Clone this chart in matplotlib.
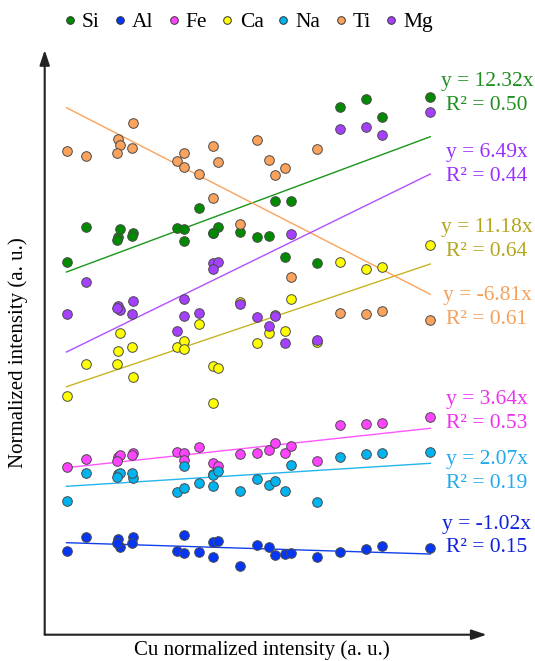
import matplotlib
matplotlib.use("Agg")
import matplotlib.pyplot as plt
from matplotlib.lines import Line2D

# ---------------- data (arbitrary units) ----------------
elements = ["Si", "Al", "Fe", "Ca", "Na", "Ti", "Mg"]

cu = [21.8, 41.3, 72.8, 74.8, 72.6, 87.8, 86.8, 132.6, 139.5, 139.3, 154.0, 168.0, 173.0,
      168.6, 195.6, 211.8, 224.0, 230.1, 240.1, 246.6, 272.0, 295.6, 321.6, 337.0, 385.6]

si = [372.4, 408.0, 397.7, 405.4, 395.2, 401.4, 399.2, 407.0, 406.0, 394.0, 426.4, 402.0, 408.0,
      401.7, 403.0, 397.4, 398.4, 434.0, 378.0, 434.0, 371.4, 528.0, 535.4, 518.0, 537.4]
al = [84.0, 97.7, 95.4, 88.0, 92.0, 98.0, 92.0, 84.0, 99.4, 82.0, 83.0, 93.0, 94.0,
      77.4, 68.7, 90.2, 88.2, 79.5, 80.5, 81.4, 77.4, 82.7, 86.0, 88.7, 86.7]
fe = [168.0, 176.0, 177.4, 179.4, 173.4, 181.4, 180.2, 182.7, 181.4, 174.7, 188.0, 172.0, 169.0,
      160.7, 180.4, 181.4, 185.0, 192.2, 181.4, 189.0, 173.4, 209.4, 210.4, 212.0, 217.4]
ca = [239.0, 270.4, 283.4, 302.0, 271.0, 257.4, 288.0, 287.4, 294.0, 285.7, 310.4, 269.0, 267.0,
      231.4, 332.7, 292.2, 302.0, 320.2, 304.2, 336.0, 293.0, 373.0, 365.4, 367.4, 390.0]
na = [134.0, 161.4, 160.7, 161.4, 158.0, 157.0, 161.4, 143.0, 169.0, 147.0, 152.0, 159.7, 164.0,
      149.0, 144.0, 155.7, 150.0, 153.4, 144.2, 169.4, 133.0, 178.0, 180.4, 181.4, 182.4]
ti = [483.4, 479.0, 496.0, 489.4, 481.4, 511.4, 487.0, 474.0, 481.4, 468.0, 461.0, 488.4, 472.4,
      436.4, 411.0, 495.2, 474.5, 460.0, 466.4, 357.4, 485.4, 321.4, 321.0, 324.0, 314.4]
mg = [320.4, 353.0, 328.7, 324.4, 326.4, 334.0, 320.4, 303.4, 335.4, 319.0, 321.4, 372.0, 373.0,
      365.4, 330.4, 318.0, 308.7, 318.4, 291.4, 400.7, 294.7, 505.4, 508.0, 500.0, 522.4]

# trend line values at first / last Cu value
trend_left = [362.7, 92.0, 167.0, 248.0, 148.4, 527.0, 282.7]
trend_right = [498.0, 80.7, 206.4, 370.7, 171.4, 340.4, 460.7]

slopes = ["12.32", "-1.02", "3.64", "11.18", "2.07", "-6.81", "6.49"]
r2 = ["0.50", "0.15", "0.53", "0.64", "0.19", "0.61", "0.44"]

# ---------------- style ----------------
marker_colors = ["#008a00", "#0536f5", "#ff44ff", "#ffff00", "#00b4f0", "#fba35c", "#a640ff"]
line_colors = ["#1a961a", "#1040ee", "#ff55ff", "#c8b420", "#25b5ee", "#fba35c", "#b050ff"]
text_colors = ["#1f8f1f", "#1020dd", "#f030f0", "#b3a51a", "#22aaee", "#f5a05a", "#9a30ff"]
label_base_y = [548.7, 105.7, 230.7, 402.7, 170.7, 334.7, 477.7]  # data y of first label line baseline

plt.rcParams["font.family"] = ["Liberation Serif", "DejaVu Serif"]

W, H = 535, 661
fig = plt.figure(figsize=(W / 100, H / 100), dpi=100)
ax = fig.add_axes([44.7 / W, (H - 634.7) / H, 442 / W, 584.7 / H])
ax.set_xlim(0, 442)
ax.set_ylim(0, 584.7)
ax.axis("off")

series = [si, al, fe, ca, na, ti, mg]
for i, (name, ys) in enumerate(zip(elements, series)):
    ax.plot([cu[0], cu[-1]], [trend_left[i], trend_right[i]], color=line_colors[i], lw=1.0, zorder=2)
for i, (name, ys) in enumerate(zip(elements, series)):
    ax.scatter(cu, ys, s=48, color=marker_colors[i], edgecolors="#4a4a4a", linewidths=0.7, zorder=3 + i)

for i in range(len(elements)):
    yb = label_base_y[i]
    ax.text(442.3, yb, f"y = {slopes[i]}x", color=text_colors[i], fontsize=15.5,
            ha="center", va="baseline", clip_on=False)
    ax.text(442.3, yb - 23.5, f"R² = {r2[i]}", color=text_colors[i], fontsize=15.5,
            ha="center", va="baseline", clip_on=False)

# axes arrows
arrow = dict(arrowstyle="-|>,head_length=0.9,head_width=0.3", color="#222222", lw=1.5,
             shrinkA=0, shrinkB=0)
ax.annotate("", xy=(0, 584.7), xytext=(0, 0), arrowprops=arrow, annotation_clip=False)
ax.annotate("", xy=(442, 0), xytext=(0, 0), arrowprops=arrow, annotation_clip=False)

fig.text(18 / W, 1 - 353 / H, "Normalized intensity (a. u.)", rotation=90, fontsize=15,
         ha="center", va="center")
fig.text(262 / W, 1 - 650 / H, "Cu normalized intensity (a. u.)", fontsize=15,
         ha="center", va="center")

handles = [Line2D([], [], marker="o", ls="", markersize=5.5, markerfacecolor=c,
                  markeredgecolor="#333333", markeredgewidth=0.7) for c in marker_colors]
fig.legend(handles, elements, loc="center", bbox_to_anchor=(249 / W, 1 - 22 / H), ncol=7,
           frameon=False, fontsize=15.5, handlelength=0.45, handletextpad=0.35,
           columnspacing=0.7, borderaxespad=0)

fig.savefig("out.png", dpi=100)
